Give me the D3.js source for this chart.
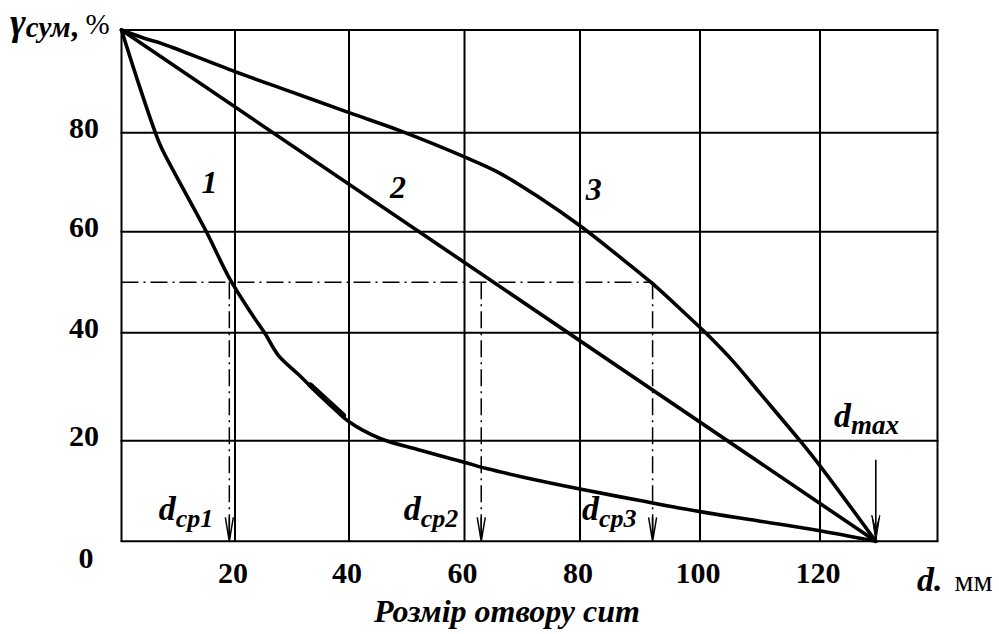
<!DOCTYPE html>
<html><head><meta charset="utf-8">
<script src="https://cdn.jsdelivr.net/npm/d3@7"></script>
<style>
body{margin:0;background:#fff}
svg{display:block}
text{font-family:"Liberation Serif","Times New Roman",serif;fill:#000}
</style>
</head><body>
<svg id="c" width="999" height="634"></svg>
<script>
// ---------- data ----------
const xGridValues = [0, 20, 40, 60, 80, 100, 120, 140];
const yGridValues = [0, 20, 40, 60, 80, 100];
const xTickValues = [20, 40, 60, 80, 100, 120];
const xTickLabels = ["20", "40", "60", "80", "100", "120"];
const yTickValues = [20, 40, 60, 80];
const yTickLabels = ["20", "40", "60", "80"];

// curve 1 (d, gamma %)
const curve1 = [[0,100],[3,89.6],[5.9,80.2],[7.1,76.8],[11,68.4],[15,59.9],[19.1,50.6],[23,43.6],[25.3,39.8],[27.6,35.8],
  [31,32.4],[34,29.3],[37,26.3],[40,23.5],[45.4,20.4],[52,18.2],[60,15.7],[64,14.4],[70,12.8],
  [80,10.4],[90,8.1],[100,5.9],[110,4.0],[120,2.1],[129.5,0]];
// curve 2
const curve2 = [[0,100],[129.5,0]];
// curve 3
const curve3 = [[0,100],[4,98.4],[7,97.4],[9,96.6],[20,91.9],[30,87.9],[40,83.9],[48.8,80.4],[60,75.1],
  [66,71.9],[72.7,67.1],[80,61.2],[86,55.6],[92,49.8],[97.7,43.6],[101.1,39.8],[105.6,34.6],[110,28.8],
  [116.8,19.8],[120,15],[129.5,0]];
// pen overdraw on curve 1
const overdraw1 = [[33.2,30.3],[39,24.7]];

const curveNames = ["1", "2", "3"];
const curveLabelPos = [[15.5,70],[48.5,69],[82.3,68.6]];

const medianLevel = 50;
const medianD = [19.0, 62.9, 92.1];
const medianSubs = ["cp1", "cp2", "cp3"];
const dMax = 129.5;
const dMaxArrowTop = 16.2;

// ---------- scales ----------
const svg = d3.select("#c");
const x = d3.scaleLinear().domain(xGridValues).range([121.5,235,349,464.5,580,700,820,937.5]);
const y = d3.scaleLinear().domain(yGridValues).range([541.3,440.7,332.7,231.7,132.7,30]);

// ---------- grid ----------
const g = svg.append("g").attr("stroke","#000").attr("stroke-width",2);
g.selectAll("line.v").data(xGridValues).join("line")
  .attr("x1",d=>x(d)).attr("x2",d=>x(d)).attr("y1",y(0)).attr("y2",y(100));
g.selectAll("line.h").data(yGridValues).join("line")
  .attr("y1",d=>y(d)).attr("y2",d=>y(d)).attr("x1",x(0)-1).attr("x2",x(140)+1);

// ---------- median dash-dot lines ----------
const dash = "17,5,2,5";
svg.append("line").attr("x1",x(0)).attr("x2",x(medianD[2])).attr("y1",y(medianLevel)).attr("y2",y(medianLevel))
  .attr("stroke","#000").attr("stroke-width",1.5).attr("stroke-dasharray",dash);
medianD.forEach((d,i)=>{
  svg.append("line").attr("x1",x(d)).attr("x2",x(d)).attr("y1",y(medianLevel)).attr("y2",y(0))
    .attr("stroke","#000").attr("stroke-width",1.5).attr("stroke-dasharray",dash);
  const X=x(d), Y=y(0);
  svg.append("path").attr("d",`M${X-4},${Y-24}L${X},${Y}L${X+4},${Y-24}M${X},${Y-24}L${X},${Y}`)
    .attr("fill","none").attr("stroke","#000").attr("stroke-width",1.5);
  const t = svg.append("text").attr("x",X-(i==1?23:16)).attr("y",Y-21).attr("text-anchor","end")
    .attr("font-weight","bold").attr("font-style","italic");
  t.append("tspan").attr("font-size",34).text("d");
  t.append("tspan").attr("font-size",26).attr("dy",7).text(medianSubs[i]);
});

// ---------- d max arrow ----------
{
  const X=x(dMax), Y=y(0);
  svg.append("line").attr("x1",X).attr("x2",X).attr("y1",y(dMaxArrowTop)).attr("y2",Y)
    .attr("stroke","#000").attr("stroke-width",1.6);
  svg.append("path").attr("d",`M${X-4},${Y-26}L${X},${Y}L${X+4},${Y-26}L${X},${Y-12}Z`)
    .attr("fill","#000").attr("stroke","#000").attr("stroke-width",1);
  const t = svg.append("text").attr("x",834).attr("y",427)
    .attr("font-weight","bold").attr("font-style","italic");
  t.append("tspan").attr("font-size",34).text("d");
  t.append("tspan").attr("font-size",27).attr("dy",7).text("max");
}

// ---------- curves ----------
const line = d3.line().x(d=>x(d[0])).y(d=>y(d[1]));
const lineCR = d3.line().x(d=>x(d[0])).y(d=>y(d[1])).curve(d3.curveCatmullRom.alpha(0.5));
const cg = svg.append("g").attr("fill","none").attr("stroke","#000").attr("stroke-linejoin","round").attr("stroke-linecap","round");
cg.append("path").attr("d",lineCR(curve1)).attr("stroke-width",3.6);
cg.append("path").attr("d",line(curve2)).attr("stroke-width",3.6);
cg.append("path").attr("d",lineCR(curve3)).attr("stroke-width",3.6);
cg.append("path").attr("d",line(overdraw1)).attr("stroke-width",5.5);

// curve numbers
svg.selectAll("text.cn").data(curveNames).join("text")
  .attr("x",(d,i)=>x(curveLabelPos[i][0])).attr("y",(d,i)=>y(curveLabelPos[i][1]))
  .attr("text-anchor","middle").attr("dominant-baseline","central")
  .attr("font-size",32).attr("font-weight","bold").attr("font-style","italic").text(d=>d);

// ---------- tick labels ----------
svg.selectAll("text.xt").data(xTickValues).join("text")
  .attr("x",d=>x(d)-2).attr("y",583).attr("text-anchor","middle")
  .attr("font-size",30).attr("font-weight","bold").text((d,i)=>xTickLabels[i]);
svg.selectAll("text.yt").data(yTickValues).join("text")
  .attr("x",99).attr("y",d=>y(d)+5).attr("text-anchor","end")
  .attr("font-size",30).attr("font-weight","bold").text((d,i)=>yTickLabels[i]);
svg.append("text").attr("x",86).attr("y",568).attr("text-anchor","middle")
  .attr("font-size",30).attr("font-weight","bold").text("0");

// ---------- axis titles ----------
{
  const t = svg.append("text").attr("x",10).attr("y",35);
  t.append("tspan").attr("font-size",38).attr("font-weight","bold").attr("font-style","italic").text("γ");
  t.append("tspan").attr("font-size",29).attr("font-weight","bold").attr("font-style","italic").attr("dy",2).text("сум");
  t.append("tspan").attr("font-size",31).attr("font-weight","bold").text(",");
  t.append("tspan").attr("font-size",29).attr("dy",-3).text(" %");
}
svg.append("text").attr("x",507).attr("y",622).attr("text-anchor","middle")
  .attr("font-size",32).attr("font-weight","bold").attr("font-style","italic").text("Розмір отвору сит");
{
  const t = svg.append("text").attr("x",917).attr("y",591);
  t.append("tspan").attr("font-size",34).attr("font-weight","bold").attr("font-style","italic").text("d.");
  t.append("tspan").attr("font-size",30).attr("dx",12).text("мм");
}
</script>
</body></html>
